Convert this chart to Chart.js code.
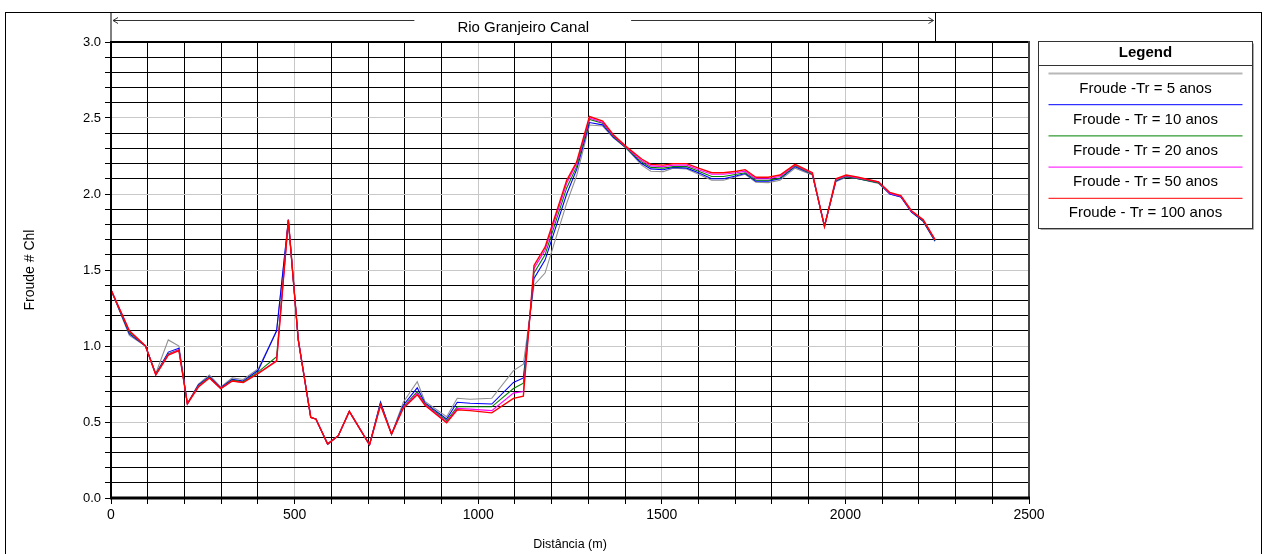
<!DOCTYPE html>
<html>
<head>
<meta charset="utf-8">
<script src="https://cdn.jsdelivr.net/npm/chart.js@4/dist/chart.umd.min.js"></script>
<style>
html, body { margin: 0; padding: 0; background: #fff; }
</style>
</head>
<body>
<canvas id="froude" width="1267" height="554"></canvas>
<script>
"use strict"

// estações (m)
const estacoes = [0, 50, 94, 122, 156, 185, 208, 238, 268, 299, 330, 360, 401, 451, 483, 510, 544, 558, 590, 619,
    649, 704, 734, 764, 796, 834, 855, 914, 943, 978, 1037, 1096, 1123, 1152, 1182, 1241, 1268, 1303, 1339, 1368,
    1404, 1445, 1470, 1504, 1531, 1568, 1600, 1636, 1668, 1704, 1727, 1756, 1790, 1822, 1863, 1910, 1943, 1974, 2002, 2035,
    2090, 2121, 2151, 2180, 2212, 2244];

const froudeTr5 = [1.37, 1.07, 1.00, 0.82, 1.04, 1.00, 0.62, 0.75, 0.81, 0.73, 0.79, 0.78, 0.85, 1.10, 1.82, 1.04, 0.53, 0.52, 0.355, 0.41,
    0.57, 0.35, 0.63, 0.42, 0.63, 0.765, 0.635, 0.535, 0.656, 0.65, 0.656, 0.838, 0.88, 1.40, 1.48, 1.94, 2.12, 2.454, 2.447, 2.37,
    2.30, 2.19, 2.15, 2.147, 2.17, 2.165, 2.13, 2.09, 2.09, 2.115, 2.13, 2.077, 2.075, 2.09, 2.17, 2.125, 1.79, 2.08, 2.11, 2.10,
    2.07, 2.00, 1.98, 1.88, 1.82, 1.69];

const froudeTr10 = [1.37, 1.08, 1.00, 0.815, 0.96, 0.985, 0.62, 0.745, 0.80, 0.725, 0.78, 0.77, 0.84, 1.10, 1.83, 1.04, 0.53, 0.52, 0.355, 0.41,
    0.57, 0.35, 0.63, 0.42, 0.61, 0.725, 0.625, 0.52, 0.63, 0.623, 0.618, 0.76, 0.79, 1.445, 1.565, 2.00, 2.16, 2.47, 2.455, 2.375,
    2.30, 2.20, 2.165, 2.16, 2.175, 2.17, 2.14, 2.10, 2.10, 2.12, 2.135, 2.085, 2.085, 2.10, 2.18, 2.13, 1.79, 2.085, 2.115, 2.10,
    2.075, 2.00, 1.98, 1.88, 1.82, 1.69];

const froudeTr20 = [1.37, 1.09, 1.00, 0.815, 0.95, 0.975, 0.62, 0.74, 0.795, 0.72, 0.775, 0.765, 0.83, 0.93, 1.83, 1.04, 0.53, 0.52, 0.355, 0.41,
    0.57, 0.35, 0.62, 0.42, 0.60, 0.70, 0.62, 0.51, 0.60, 0.60, 0.60, 0.72, 0.755, 1.48, 1.60, 2.04, 2.18, 2.49, 2.465, 2.38,
    2.30, 2.21, 2.175, 2.17, 2.18, 2.18, 2.15, 2.115, 2.115, 2.13, 2.14, 2.09, 2.09, 2.105, 2.185, 2.13, 1.785, 2.09, 2.115, 2.10,
    2.075, 2.005, 1.985, 1.885, 1.825, 1.695];

const froudeTr50 = [1.37, 1.10, 1.00, 0.81, 0.945, 0.975, 0.62, 0.735, 0.79, 0.72, 0.77, 0.76, 0.82, 0.905, 1.83, 1.04, 0.53, 0.52, 0.355, 0.41,
    0.57, 0.35, 0.615, 0.42, 0.595, 0.69, 0.615, 0.50, 0.59, 0.585, 0.575, 0.69, 0.70, 1.51, 1.63, 2.07, 2.20, 2.50, 2.47, 2.385,
    2.305, 2.22, 2.185, 2.18, 2.19, 2.19, 2.16, 2.13, 2.13, 2.14, 2.15, 2.10, 2.10, 2.115, 2.19, 2.135, 1.785, 2.095, 2.12, 2.105,
    2.08, 2.005, 1.985, 1.885, 1.83, 1.70];

const froudeTr100 = [1.37, 1.10, 1.00, 0.81, 0.94, 0.97, 0.62, 0.73, 0.79, 0.72, 0.77, 0.76, 0.82, 0.90, 1.83, 1.04, 0.53, 0.52, 0.355, 0.41,
    0.57, 0.35, 0.61, 0.42, 0.59, 0.68, 0.61, 0.495, 0.58, 0.575, 0.56, 0.655, 0.67, 1.53, 1.65, 2.09, 2.21, 2.51, 2.48, 2.39,
    2.31, 2.23, 2.195, 2.19, 2.20, 2.20, 2.17, 2.14, 2.14, 2.15, 2.16, 2.11, 2.11, 2.125, 2.195, 2.14, 1.785, 2.10, 2.125, 2.11,
    2.08, 2.01, 1.99, 1.89, 1.83, 1.70];

const legendas = ["Froude -Tr = 5 anos", "Froude - Tr = 10 anos", "Froude - Tr = 20 anos", "Froude - Tr = 50 anos", "Froude - Tr = 100 anos"];
const ticksX = [0, 500, 1000, 1500, 2000, 2500];
const ticksY = [0.0, 0.5, 1.0, 1.5, 2.0, 2.5, 3.0];
const tituloCanal = "Rio Granjeiro Canal";
const tituloX = "Distância (m)";
const tituloY = "Froude # Chl";

const fonte = "'Liberation Sans', Arial, sans-serif";

function pontos(valores) {
    return estacoes.map((x, i) => ({ x: x, y: valores[i] }));
}

function ehMaior(valores, v) {
    return valores.some(t => Math.abs(t - v) < 1e-6);
}

const cores = ["#909090", "#0000ff", "#008000", "#ff00ff", "#ff0000"];
const series = [froudeTr5, froudeTr10, froudeTr20, froudeTr50, froudeTr100];

const datasets = series.map((s, i) => ({
    label: legendas[i],
    data: pontos(s),
    borderColor: cores[i],
    backgroundColor: "transparent",
    borderWidth: i == 4 ? 1.4 : 1.1,
    pointRadius: 0,
    tension: 0,
    order: 4 - i
}));

const molduraPlugin = {
    id: "moldura",
    afterDraw(chart) {
        const ctx = chart.ctx;
        const a = chart.chartArea;
        const xs = chart.scales.x;
        ctx.save();

        // quadro externo
        ctx.strokeStyle = "#000";
        ctx.lineWidth = 1;
        ctx.strokeRect(5.5, 12.5, 1256, 560);

        // faixa do canal
        const xFim = Math.round(xs.getPixelForValue(estacoes[estacoes.length - 1])) + 0.5;
        ctx.beginPath();
        ctx.moveTo(a.left, 12.5); ctx.lineTo(a.left, a.top);
        ctx.moveTo(xFim, 12.5); ctx.lineTo(xFim, a.top);
        ctx.stroke();

        ctx.font = "15px " + fonte;
        ctx.fillStyle = "#000";
        ctx.textAlign = "center";
        ctx.textBaseline = "middle";
        const meio = (a.left + xFim) / 2;
        const yS = 20.5;
        ctx.fillText(tituloCanal, meio, 28);
        const w = ctx.measureText(tituloCanal).width;
        ctx.strokeStyle = "#333";
        ctx.beginPath();
        ctx.moveTo(a.left + 2, yS); ctx.lineTo(meio - w / 2 - 43, yS);
        ctx.moveTo(meio + w / 2 + 42, yS); ctx.lineTo(xFim - 2, yS);
        ctx.moveTo(a.left + 7, yS - 3); ctx.lineTo(a.left + 2, yS); ctx.lineTo(a.left + 7, yS + 3);
        ctx.moveTo(xFim - 7, yS - 3); ctx.lineTo(xFim - 2, yS); ctx.lineTo(xFim - 7, yS + 3);
        ctx.stroke();

        // bordas da área
        ctx.strokeStyle = "#000";
        ctx.lineWidth = 2;
        ctx.beginPath();
        ctx.moveTo(a.left, a.top - 1); ctx.lineTo(a.left, a.bottom + 1);
        ctx.moveTo(a.left, a.top); ctx.lineTo(a.right, a.top);
        ctx.stroke();
        ctx.strokeStyle = "#444";
        ctx.beginPath();
        ctx.moveTo(a.right, a.top - 1); ctx.lineTo(a.right, a.bottom);
        ctx.stroke();
        ctx.strokeStyle = "#000";
        ctx.lineWidth = 3;
        ctx.beginPath();
        ctx.moveTo(a.left - 1, a.bottom); ctx.lineTo(a.right + 1, a.bottom);
        ctx.stroke();

        // títulos dos eixos
        ctx.fillStyle = "#000";
        ctx.textAlign = "center";
        ctx.textBaseline = "middle";
        ctx.font = "12.5px " + fonte;
        ctx.fillText(tituloX, (a.left + a.right) / 2, 545);
        ctx.save();
        ctx.font = "14px " + fonte;
        ctx.translate(30, (a.top + a.bottom) / 2);
        ctx.rotate(-Math.PI / 2);
        ctx.fillText(tituloY, 0, 0);
        ctx.restore();

        // legenda
        const lx = 1038.5, ly = 41.5, lw = 214, lh = 187;
        ctx.strokeStyle = "#aaa";
        ctx.lineWidth = 1;
        ctx.beginPath();
        ctx.moveTo(lx + lw + 1, ly + 2); ctx.lineTo(lx + lw + 1, ly + lh + 1); ctx.lineTo(lx + 2, ly + lh + 1);
        ctx.stroke();
        ctx.strokeStyle = "#333";
        ctx.strokeRect(lx, ly, lw, lh);
        ctx.beginPath();
        ctx.moveTo(lx, 65.5); ctx.lineTo(lx + lw, 65.5);
        ctx.stroke();
        ctx.font = "bold 15px " + fonte;
        ctx.fillText("Legend", lx + lw / 2, 53);
        ctx.font = "15px " + fonte;
        chart.data.datasets.forEach((d, i) => {
            const yl = 73.5 + i * 31.2;
            ctx.strokeStyle = i == 0 ? "#b8b8b8" : d.borderColor;
            ctx.lineWidth = i == 0 ? 2 : 1;
            ctx.beginPath();
            ctx.moveTo(lx + 10, yl); ctx.lineTo(lx + lw - 10, yl);
            ctx.stroke();
            ctx.fillStyle = "#000";
            ctx.fillText(d.label, lx + lw / 2, yl + 15);
        });

        ctx.restore();
    }
};

new Chart(document.getElementById("froude").getContext("2d"), {
    type: "line",
    data: { datasets: datasets },
    options: {
        responsive: false,
        animation: false,
        devicePixelRatio: 1,
        layout: { padding: { left: 0, top: 42, right: 238, bottom: 0 } },
        plugins: { legend: { display: false }, tooltip: { enabled: false } },
        scales: {
            x: {
                type: "linear",
                min: 0,
                max: 2500,
                afterFit: s => { s.height = 56; },
                border: { display: false },
                grid: {
                    color: c => (c.tick && c.tick.value % 500 === 0) ? "#c8c8c8" : "#000",
                    tickColor: "#000",
                    tickLength: 6,
                    lineWidth: 1
                },
                ticks: {
                    stepSize: 100,
                    autoSkip: false,
                    maxRotation: 0,
                    padding: 3,
                    color: "#000",
                    font: { family: fonte, size: 14 },
                    callback: v => ehMaior(ticksX, v) ? String(v) : ""
                }
            },
            y: {
                min: 0,
                max: 3,
                afterFit: s => { s.width = 111; },
                border: { display: false },
                grid: {
                    color: c => (c.tick && Math.round(c.tick.value * 10) % 5 === 0) ? "#c8c8c8" : "#000",
                    tickColor: "#000",
                    tickLength: 6,
                    lineWidth: 1
                },
                ticks: {
                    stepSize: 0.1,
                    autoSkip: false,
                    padding: 4,
                    color: "#000",
                    font: { family: fonte, size: 13 },
                    callback: v => ehMaior(ticksY, v) ? v.toFixed(1) : ""
                }
            }
        }
    },
    plugins: [molduraPlugin]
});
</script>
</body>
</html>
